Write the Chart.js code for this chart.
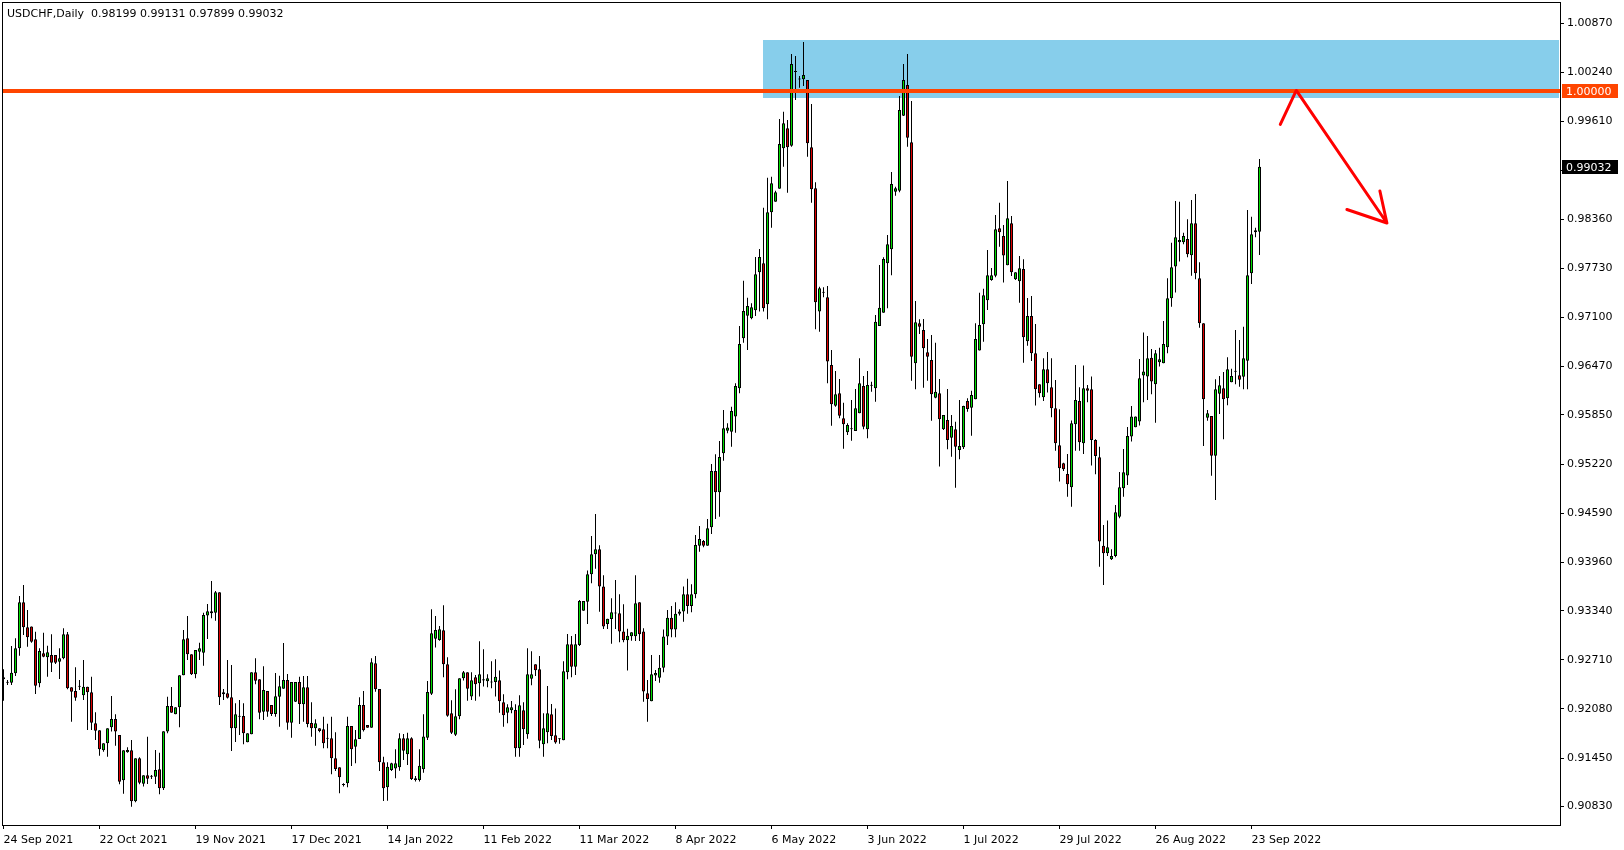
<!DOCTYPE html>
<html>
<head>
<meta charset="utf-8">
<title>USDCHF Daily</title>
<script src="https://cdn.jsdelivr.net/npm/chart.js@4.4.0/dist/chart.umd.min.js"></script>
<style>
  html, body { margin: 0; padding: 0; background: #fff; }
  #wrap { width: 1624px; height: 850px; }
</style>
</head>
<body>
<div id="wrap"><canvas id="chart" width="1624" height="850"></canvas></div>
<script>
// USDCHF daily candles, 24 Sep 2021 .. 26 Sep 2022 (broker shows Sunday bars)
const symbol = 'USDCHF';
const period = 'Daily';

const opens = [
  0.92460,0.92418,0.92418,0.92537,0.92858,0.93448,0.93127,0.93136,0.92973,0.92409,
  0.92794,0.92742,0.92772,0.92772,0.92687,0.92730,0.93037,0.92358,0.92311,0.92366,
  0.92255,0.92366,0.92294,0.91896,0.91807,0.91550,0.91640,0.91845,0.91952,0.91747,
  0.91166,0.91525,0.91550,0.90897,0.91448,0.91123,0.91230,0.91213,0.91213,0.91307,
  0.91063,0.91790,0.92119,0.92012,0.92102,0.92512,0.92986,0.92781,0.92525,0.92815,
  0.92802,0.93277,0.93307,0.93315,0.93576,0.92268,0.92281,0.92230,0.91832,0.91982,
  0.91990,0.91653,0.91755,0.92550,0.92460,0.92046,0.92311,0.92131,0.92016,0.92238,
  0.92341,0.92452,0.91905,0.92174,0.92426,0.92140,0.92358,0.91901,0.91832,0.91832,
  0.91819,0.91700,0.91704,0.91448,0.91332,0.91106,0.91127,0.91862,0.91597,0.91696,
  0.92131,0.91875,0.91841,0.92666,0.92337,0.91396,0.91076,0.91298,0.91316,0.91333,
  0.91704,0.91499,0.91704,0.91170,0.91170,0.91307,0.91713,0.92277,0.92982,0.92965,
  0.93089,0.92653,0.92025,0.91751,0.91986,0.92474,0.92550,0.92239,0.92486,0.92409,
  0.92461,0.92435,0.92422,0.92427,0.92448,0.92166,0.92033,0.92063,0.92068,0.91576,
  0.92063,0.91756,0.92469,0.92653,0.92589,0.91627,0.91781,0.92012,0.91743,0.91692,
  0.91679,0.92550,0.92909,0.92623,0.92901,0.93341,0.93456,0.93807,0.94063,0.94127,
  0.93649,0.93170,0.93234,0.93307,0.93307,0.93072,0.92961,0.93012,0.93012,0.93448,
  0.93072,0.92281,0.92179,0.92508,0.92482,0.92610,0.93010,0.93250,0.93100,0.93300,
  0.93330,0.93550,0.93400,0.93550,0.94174,0.94234,0.94174,0.94409,0.95131,0.94858,
  0.95357,0.95648,0.95635,0.95828,0.96191,0.96832,0.97122,0.97088,0.97191,0.97678,
  0.97793,0.97267,0.98447,0.98584,0.98750,0.99267,0.99524,0.99301,1.00250,1.00152,
  1.00152,1.00143,0.99280,0.98754,0.97174,0.97417,0.97357,0.96490,0.95968,0.96127,
  0.95806,0.95627,0.95665,0.95644,0.95870,0.96221,0.95665,0.96225,0.96191,0.96990,
  0.97161,0.97793,0.97973,0.98712,0.98725,0.99686,1.00079,0.99344,0.96511,0.97024,
  0.96938,0.96652,0.96554,0.96071,0.96127,0.95665,0.95785,0.95558,0.95665,0.95400,
  0.95434,0.96028,0.95943,0.96050,0.96674,0.97011,0.97319,0.97580,0.97635,0.98242,
  0.98144,0.97768,0.98306,0.97588,0.97563,0.97721,0.96794,0.97118,0.96640,0.96242,
  0.96076,0.96435,0.96204,0.95935,0.95460,0.95230,0.95093,0.94922,0.95730,0.96029,
  0.95486,0.96191,0.96178,0.95529,0.95307,0.94174,0.94076,0.93999,0.94042,0.94546,
  0.94909,0.95072,0.95572,0.95691,0.95764,0.96354,0.96341,0.96584,0.96242,0.96524,
  0.96512,0.96717,0.97345,0.97751,0.98062,0.98062,0.98105,0.97896,0.98306,0.97601,
  0.97024,0.95815,0.95836,0.95328,0.96122,0.96191,0.96063,0.96268,0.96404,0.96357,
  0.96340,0.96545,0.97665,0.98191,0.98199
];
const highs = [
  0.92589,0.92452,0.92888,0.92986,0.93529,0.93670,0.93349,0.93136,0.93071,0.92858,
  0.93059,0.92892,0.93037,0.92772,0.92858,0.93114,0.93067,0.92358,0.92614,0.92452,
  0.92708,0.92366,0.92495,0.92037,0.91807,0.91640,0.91832,0.92247,0.92012,0.91747,
  0.91550,0.91589,0.91683,0.91448,0.91461,0.91230,0.91725,0.91234,0.91555,0.91520,
  0.91794,0.92238,0.92362,0.92102,0.92512,0.93093,0.93272,0.92781,0.92836,0.92930,
  0.93315,0.93426,0.93721,0.93593,0.93576,0.92337,0.92708,0.92644,0.92153,0.92196,
  0.92153,0.91768,0.92550,0.92730,0.92460,0.92627,0.92311,0.92131,0.92542,0.92507,
  0.92926,0.92529,0.92426,0.92426,0.92495,0.92503,0.92503,0.92166,0.91948,0.91832,
  0.91982,0.91892,0.91982,0.91781,0.91332,0.91127,0.91982,0.91862,0.91811,0.92230,
  0.92311,0.91875,0.92730,0.92760,0.92337,0.91469,0.91396,0.91392,0.91563,0.91768,
  0.91760,0.91777,0.91717,0.91222,0.91563,0.92012,0.92439,0.93358,0.93273,0.93144,
  0.93409,0.92743,0.92192,0.92333,0.92474,0.92568,0.92550,0.92550,0.92516,0.92948,
  0.92845,0.92525,0.92691,0.92717,0.92572,0.92268,0.92140,0.92183,0.92140,0.92256,
  0.92166,0.92858,0.92820,0.92653,0.92760,0.92025,0.92375,0.92145,0.92085,0.91704,
  0.92691,0.93042,0.93016,0.93042,0.93478,0.93465,0.93854,0.94298,0.94580,0.94178,
  0.93794,0.93238,0.93499,0.93734,0.93550,0.93422,0.93110,0.93063,0.93794,0.93448,
  0.93115,0.92452,0.92773,0.92580,0.92773,0.93100,0.93350,0.93400,0.93450,0.93360,
  0.93650,0.93750,0.93680,0.94311,0.94426,0.94246,0.94516,0.95221,0.95345,0.95516,
  0.95913,0.95742,0.95956,0.96255,0.96990,0.97571,0.97353,0.97280,0.97874,0.97977,
  0.98507,0.98891,0.98904,0.98725,0.99643,0.99737,0.99630,1.00477,1.00451,1.00195,
  1.00630,1.00143,0.99836,0.98831,0.97494,0.97485,0.97503,0.96682,0.96413,0.96310,
  0.96007,0.95742,0.96041,0.96182,0.96575,0.96349,0.96413,0.96276,0.97131,0.97772,
  0.97870,0.98156,0.98964,0.98776,0.99938,1.00348,1.00477,0.99874,0.97310,0.97075,
  0.97079,0.96823,0.96874,0.96776,0.96310,0.95849,0.96182,0.95849,0.95763,0.96041,
  0.95968,0.96063,0.96161,0.97024,0.97417,0.97468,0.97964,0.97734,0.98413,0.98571,
  0.98285,0.98849,0.98400,0.97678,0.97888,0.97845,0.97349,0.97375,0.97016,0.96242,
  0.96576,0.96657,0.96576,0.96298,0.95922,0.95238,0.95349,0.95777,0.96490,0.96204,
  0.96482,0.96234,0.96341,0.95537,0.95443,0.94439,0.94495,0.94127,0.94696,0.95119,
  0.95413,0.95696,0.95965,0.95828,0.96567,0.96905,0.96862,0.96695,0.96683,0.96712,
  0.97054,0.97601,0.98058,0.98593,0.98584,0.98186,0.98357,0.98605,0.98682,0.97806,
  0.97024,0.95913,0.95836,0.96306,0.96349,0.96400,0.96588,0.96443,0.96939,0.96810,
  0.96981,0.98477,0.98391,0.98250,0.99131
];
const lows = [
  0.92187,0.92388,0.92388,0.92503,0.92764,0.93029,0.92879,0.92930,0.92272,0.92358,
  0.92742,0.92495,0.92554,0.92657,0.92465,0.92717,0.92332,0.91918,0.92187,0.92324,
  0.92196,0.91811,0.91811,0.91683,0.91482,0.91533,0.91469,0.91790,0.91610,0.91114,
  0.90995,0.91520,0.90828,0.90884,0.91114,0.91085,0.91119,0.91183,0.91119,0.90986,
  0.91042,0.91768,0.92033,0.92012,0.91845,0.92512,0.92708,0.92516,0.92473,0.92708,
  0.92636,0.92977,0.93242,0.93212,0.92131,0.92196,0.92213,0.91542,0.91657,0.91747,
  0.91627,0.91653,0.91755,0.92396,0.91948,0.91939,0.91982,0.91990,0.91982,0.91854,
  0.92341,0.91815,0.91713,0.92170,0.91888,0.91918,0.91845,0.91725,0.91610,0.91781,
  0.91576,0.91576,0.91243,0.91285,0.90999,0.91085,0.91076,0.91349,0.91384,0.91696,
  0.91790,0.91841,0.91841,0.92302,0.91285,0.90901,0.90905,0.91285,0.91192,0.91290,
  0.91427,0.91363,0.91170,0.91150,0.91150,0.91264,0.91683,0.92260,0.92867,0.92956,
  0.92486,0.91982,0.91760,0.91734,0.91948,0.92444,0.92187,0.92196,0.92187,0.92239,
  0.92367,0.92358,0.92345,0.92239,0.92033,0.91854,0.91897,0.92025,0.91469,0.91469,
  0.91619,0.91700,0.92384,0.92503,0.91576,0.91469,0.91640,0.91683,0.91636,0.91636,
  0.91679,0.92461,0.92486,0.92516,0.92888,0.93341,0.93170,0.93691,0.93879,0.93328,
  0.93106,0.93106,0.92918,0.93106,0.92935,0.92935,0.92572,0.92956,0.92952,0.92952,
  0.92174,0.91918,0.92179,0.92439,0.92418,0.92550,0.92900,0.93000,0.93000,0.93280,
  0.93200,0.93300,0.93320,0.93500,0.94097,0.94153,0.94174,0.94323,0.94516,0.94546,
  0.95263,0.95614,0.95443,0.95622,0.96127,0.96776,0.96682,0.97075,0.97118,0.97174,
  0.97174,0.97075,0.98250,0.98584,0.98750,0.99032,0.98699,0.99289,0.99887,1.00045,
  1.00066,0.99160,0.98571,0.96947,0.96917,0.97357,0.96255,0.95712,0.95956,0.95806,
  0.95417,0.95592,0.95520,0.95644,0.95870,0.95665,0.95550,0.96148,0.96020,0.96990,
  0.97161,0.97216,0.97639,0.98660,0.98703,0.99682,0.99289,0.96289,0.96178,0.96887,
  0.96199,0.96289,0.95776,0.96063,0.95187,0.95657,0.95409,0.95315,0.94917,0.95281,
  0.95413,0.95892,0.95584,0.96050,0.96674,0.96789,0.97195,0.97571,0.97614,0.98007,
  0.97546,0.97768,0.97631,0.97580,0.97289,0.96520,0.96738,0.96542,0.95969,0.96072,
  0.96029,0.96136,0.95819,0.95392,0.94995,0.95131,0.94802,0.94674,0.95392,0.95392,
  0.95349,0.96012,0.95200,0.95089,0.93905,0.93670,0.94042,0.93991,0.94025,0.94525,
  0.94802,0.94952,0.95508,0.95691,0.95713,0.96012,0.96042,0.96114,0.95751,0.96469,
  0.96512,0.96640,0.97238,0.97418,0.97815,0.98037,0.97870,0.97635,0.97588,0.96968,
  0.95452,0.95776,0.95071,0.94759,0.95862,0.95537,0.95973,0.96268,0.96242,0.96212,
  0.96178,0.96178,0.97528,0.98126,0.97899
];
const closes = [
  0.92486,0.92420,0.92546,0.92858,0.93448,0.93127,0.92999,0.92943,0.92379,0.92824,
  0.92751,0.92807,0.92674,0.92674,0.92730,0.93037,0.92345,0.92302,0.92225,0.92368,
  0.92366,0.92294,0.91905,0.91802,0.91563,0.91640,0.91832,0.91952,0.91790,0.91149,
  0.91550,0.91555,0.90897,0.91448,0.91136,0.91230,0.91187,0.91215,0.91298,0.91063,
  0.91794,0.92119,0.92033,0.92102,0.92512,0.92973,0.92781,0.92525,0.92836,0.92858,
  0.93285,0.93332,0.93332,0.93576,0.92230,0.92294,0.92225,0.91832,0.92012,0.91985,
  0.91768,0.91768,0.92550,0.92443,0.92033,0.92324,0.92046,0.92016,0.92242,0.92371,
  0.92452,0.91905,0.92426,0.92426,0.92144,0.92358,0.91888,0.91832,0.91896,0.91798,
  0.91640,0.91698,0.91448,0.91311,0.91204,0.91108,0.91862,0.91563,0.91691,0.92131,
  0.91807,0.91841,0.92678,0.92332,0.91396,0.91063,0.91341,0.91384,0.91384,0.91704,
  0.91546,0.91704,0.91183,0.91192,0.91354,0.91726,0.92298,0.93050,0.93093,0.93102,
  0.92653,0.91995,0.91777,0.91986,0.92474,0.92550,0.92341,0.92448,0.92397,0.92525,
  0.92444,0.92474,0.92420,0.92495,0.92179,0.91999,0.92102,0.92102,0.91576,0.92127,
  0.91820,0.92525,0.92525,0.92576,0.91674,0.91833,0.92025,0.91734,0.91649,0.91704,
  0.92563,0.92909,0.92623,0.92909,0.93465,0.93465,0.93807,0.94063,0.94127,0.93649,
  0.93136,0.93238,0.93320,0.93305,0.93072,0.92961,0.93020,0.93063,0.93435,0.93038,
  0.92303,0.92209,0.92525,0.92542,0.92610,0.93010,0.93250,0.93100,0.93300,0.93330,
  0.93550,0.93400,0.93550,0.94182,0.94259,0.94174,0.94396,0.95131,0.94858,0.95310,
  0.95678,0.95687,0.95900,0.96221,0.96759,0.97182,0.97246,0.97229,0.97652,0.97874,
  0.97216,0.98447,0.98819,0.98703,0.99323,0.99588,0.99280,1.00348,1.00246,1.00150,
  1.00207,0.99331,0.98742,0.97293,0.97473,0.97415,0.96533,0.95986,0.96114,0.95840,
  0.95729,0.95721,0.95667,0.95934,0.96255,0.95699,0.96233,0.96227,0.97045,0.97225,
  0.97849,0.98037,0.98810,0.98754,0.99759,1.00143,0.99404,0.96597,0.97037,0.96981,
  0.96703,0.96597,0.96114,0.96148,0.95793,0.95849,0.95528,0.95708,0.95443,0.95451,
  0.95964,0.95926,0.96105,0.96823,0.97003,0.97383,0.97640,0.97640,0.98229,0.98191,
  0.97892,0.98370,0.97678,0.97678,0.97729,0.96845,0.97118,0.96640,0.96178,0.96127,
  0.96435,0.96255,0.95935,0.95486,0.95166,0.95153,0.94961,0.95743,0.96042,0.95499,
  0.96191,0.96161,0.95529,0.95324,0.94226,0.94076,0.94153,0.94042,0.94602,0.94922,
  0.95114,0.95580,0.95828,0.95828,0.96319,0.96405,0.96576,0.96277,0.96640,0.96563,
  0.96759,0.97345,0.97742,0.98127,0.98092,0.98144,0.97909,0.98306,0.97665,0.97024,
  0.96050,0.95870,0.95328,0.96178,0.96229,0.96050,0.96434,0.96349,0.96402,0.96302,
  0.96575,0.97639,0.98165,0.98216,0.99032
];

// time axis labels (bar index -> date)
const xTickIndex = [0, 24, 48, 72, 96, 120, 144, 168, 192, 216, 240, 264, 288, 312];
const xTickLabels = ['24 Sep 2021', '22 Oct 2021', '19 Nov 2021', '17 Dec 2021', '14 Jan 2022',
  '11 Feb 2022', '11 Mar 2022', '8 Apr 2022', '6 May 2022', '3 Jun 2022', '1 Jul 2022',
  '29 Jul 2022', '26 Aug 2022', '23 Sep 2022'];
const yTickLabels = ['0.90830', '0.91450', '0.92080', '0.92710', '0.93340', '0.93960', '0.94590',
  '0.95220', '0.95850', '0.96470', '0.97100', '0.97730', '0.98360', '0.98980', '0.99610',
  '1.00240', '1.00870'];

// drawings on the chart (bar index, price)
const levelPrice = 1.00000;
const zoneStart = 189.75;
const zoneTop = 1.00656;
const zoneBottom = 0.99916;
const arrowPath = [[319.2, 0.99573], [323.2, 1.00009], [345.85, 0.98310]];
const arrowWings = [[335.85, 0.98483], [344.1, 0.98720]];

const xMin = -0.375, xMax = 389.125;
const yMin = 0.90593, yMax = 1.01143;

const bullColor = '#00DD00';
const bearColor = '#DD0000';

Chart.defaults.font.family = "'DejaVu Sans', sans-serif";
Chart.defaults.font.size = 11;
Chart.defaults.color = '#000';

const overlay = {
  id: 'overlay',
  beforeDatasetsDraw(chart) {
    const { ctx, chartArea, scales: { x, y } } = chart;
    const zx = Math.round(x.getPixelForValue(zoneStart));
    const zt = Math.round(y.getPixelForValue(zoneTop));
    const zb = Math.round(y.getPixelForValue(zoneBottom));
    ctx.save();
    ctx.fillStyle = '#87CEEB';
    ctx.fillRect(zx, zt, chartArea.right - zx - 1, zb - zt);
    ctx.restore();
  },
  afterDatasetsDraw(chart) {
    const { ctx, chartArea, scales: { x, y } } = chart;
    ctx.save();
    // resistance level
    const ly = Math.round(y.getPixelForValue(levelPrice));
    ctx.strokeStyle = '#FF4500';
    ctx.lineWidth = 4;
    ctx.beginPath();
    ctx.moveTo(chartArea.left, ly);
    ctx.lineTo(chartArea.right, ly);
    ctx.stroke();

    // hand drawn arrow
    ctx.strokeStyle = '#FF0000';
    ctx.lineWidth = 3;
    ctx.lineCap = 'round';
    ctx.lineJoin = 'round';
    ctx.beginPath();
    arrowPath.forEach((p, i) => {
      const px = x.getPixelForValue(p[0]), py = y.getPixelForValue(p[1]);
      if (i === 0) ctx.moveTo(px, py); else ctx.lineTo(px, py);
    });
    const tip = arrowPath[arrowPath.length - 1];
    const tx = x.getPixelForValue(tip[0]), ty = y.getPixelForValue(tip[1]);
    arrowWings.forEach(w => {
      ctx.moveTo(x.getPixelForValue(w[0]), y.getPixelForValue(w[1]));
      ctx.lineTo(tx, ty);
    });
    ctx.stroke();
    ctx.restore();
  },
  afterDraw(chart) {
    const { ctx, chartArea, scales: { y } } = chart;
    ctx.save();
    ctx.strokeStyle = '#000';
    ctx.lineWidth = 1;
    ctx.strokeRect(chartArea.left + 0.5, chartArea.top + 0.5,
      chartArea.right - chartArea.left, chartArea.bottom - chartArea.top);

    ctx.font = "11px 'DejaVu Sans', sans-serif";
    ctx.textBaseline = 'middle';
    ctx.textAlign = 'left';
    const tag = (value, bg) => {
      const py = Math.round(y.getPixelForValue(value));
      ctx.fillStyle = bg;
      ctx.fillRect(chartArea.right + 2, py - 7, 56, 14);
      ctx.fillStyle = '#fff';
      ctx.fillText(value.toFixed(5), chartArea.right + 6, py + 1);
    };
    tag(levelPrice, '#FF4500');
    tag(closes[closes.length - 1], '#000');

    const n = closes.length - 1;
    const head = symbol + ',' + period + '  ' + [opens[n], highs[n], lows[n], closes[n]].map(v => v.toFixed(5)).join(' ');
    ctx.fillStyle = '#000';
    ctx.fillText(head, 7, 14);
    ctx.restore();
  }
};

document.addEventListener('DOMContentLoaded', function() {
  const wicks = lows.map((l, i) => ({ x: i, y: [l, highs[i]] }));
  const bodies = opens.map((o, i) => ({ x: i, y: [o, closes[i]] }));
  const bodyColors = opens.map((o, i) => closes[i] >= o ? bullColor : bearColor);

  const ctx = document.getElementById('chart').getContext('2d');
  new Chart(ctx, {
    type: 'bar',
    data: {
      datasets: [
        {
          data: wicks,
          backgroundColor: '#000',
          borderWidth: 0,
          barThickness: 1,
          maxBarThickness: 1,
          inflateAmount: 0,
          grouped: false,
          order: 2
        },
        {
          data: bodies,
          backgroundColor: bodyColors,
          borderColor: '#000',
          borderWidth: 1,
          borderSkipped: false,
          barThickness: 3,
          maxBarThickness: 3,
          minBarLength: 1,
          inflateAmount: 0,
          grouped: false,
          order: 1
        }
      ]
    },
    options: {
      responsive: false,
      animation: false,
      events: [],
      layout: { padding: { left: 2, top: 2, right: 0, bottom: 0 } },
      plugins: { legend: { display: false }, tooltip: { enabled: false } },
      scales: {
        x: {
          type: 'linear',
          min: xMin,
          max: xMax,
          bounds: 'data',
          offset: false,
          border: { display: false },
          grid: { drawOnChartArea: false, drawTicks: true, tickLength: 4, color: '#000', offset: false },
          ticks: {
            align: 'start',
            padding: 5,
            autoSkip: false,
            maxRotation: 0,
            color: '#000',
            callback: (v, i) => xTickLabels[i]
          },
          afterBuildTicks: s => { s.ticks = xTickIndex.map(v => ({ value: v })); },
          afterFit: s => { s.height = 25; s.paddingLeft = 0; s.paddingRight = 0; }
        },
        y: {
          position: 'right',
          min: yMin,
          max: yMax,
          bounds: 'data',
          border: { display: false },
          grid: { drawOnChartArea: false, drawTicks: true, tickLength: 4, color: '#000' },
          ticks: {
            padding: 3,
            autoSkip: false,
            color: '#000',
            callback: (v, i) => yTickLabels[i]
          },
          afterBuildTicks: s => { s.ticks = yTickLabels.map(l => ({ value: parseFloat(l) })); },
          afterFit: s => { s.width = 64; s.paddingTop = 0; s.paddingBottom = 0; }
        }
      }
    },
    plugins: [overlay]
  });
});
</script>
</body>
</html>
